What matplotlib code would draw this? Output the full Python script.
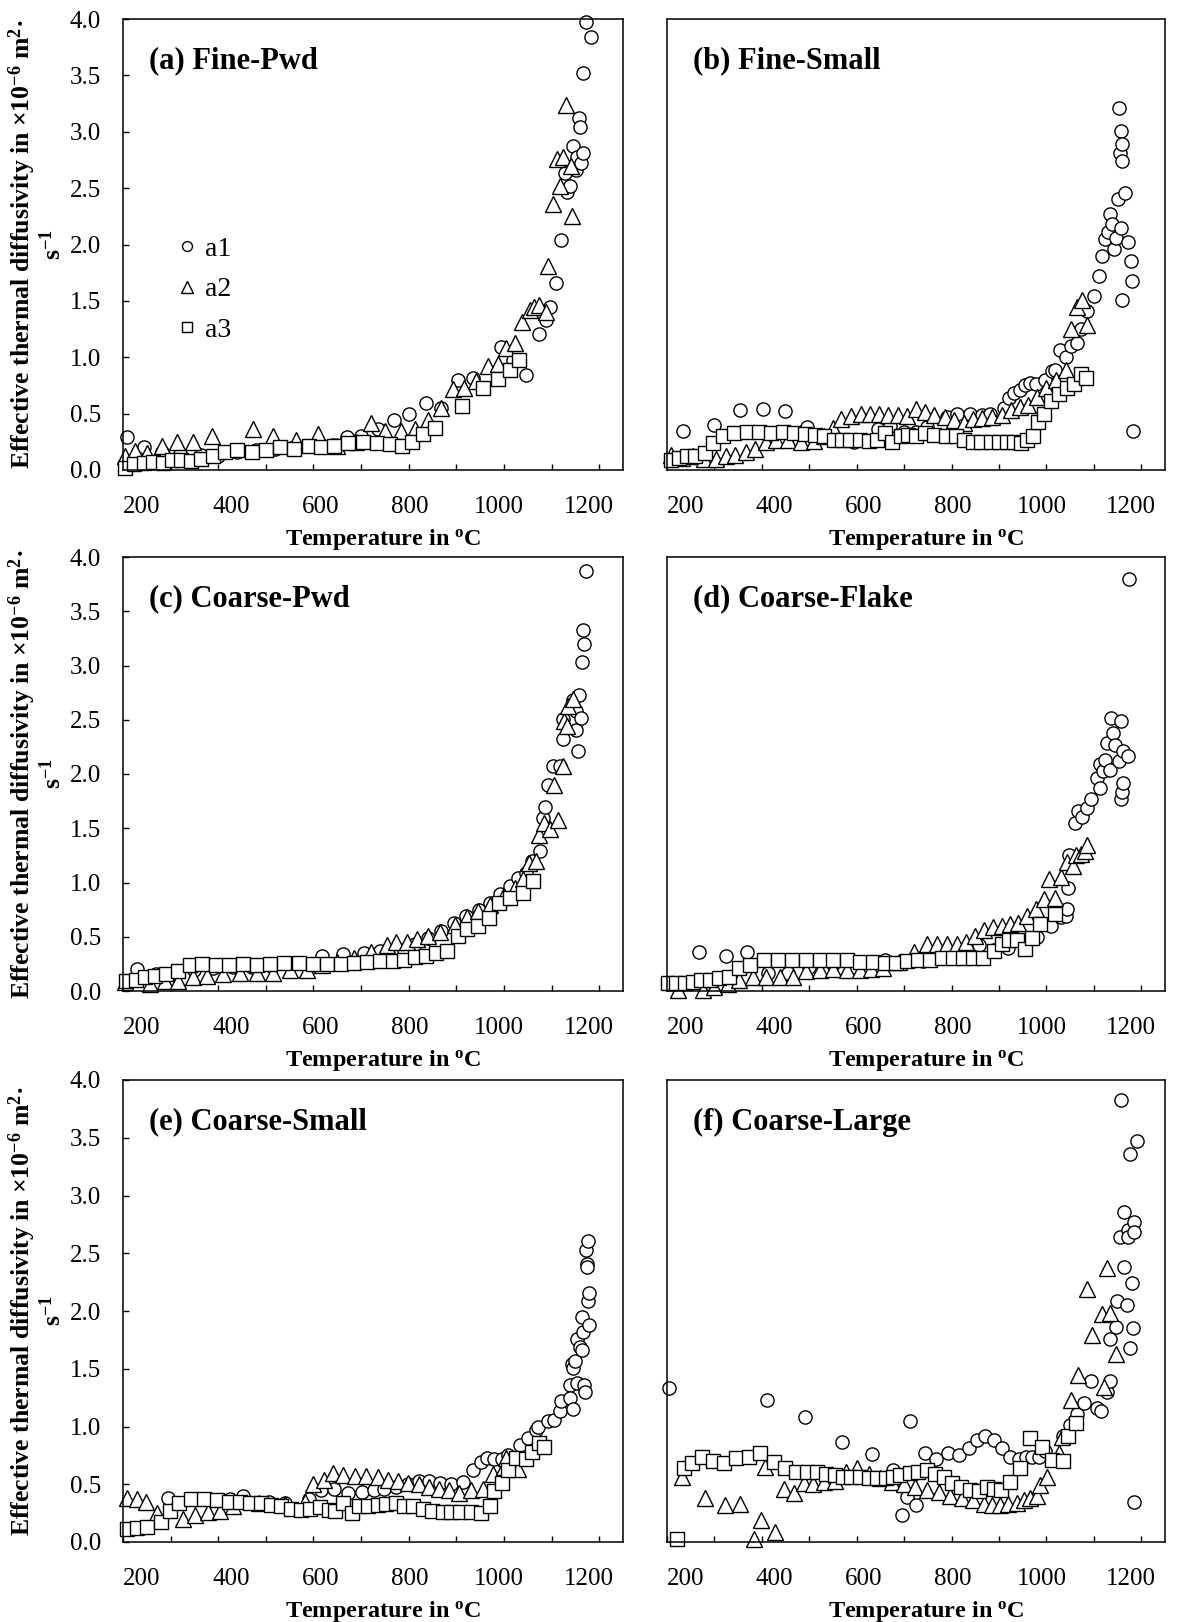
import matplotlib
matplotlib.use("Agg")
import matplotlib.pyplot as plt
from matplotlib.ticker import MultipleLocator, FormatStrFormatter

# ---- data: temperature (deg C) and effective thermal diffusivity (x1e-6 m2/s) ----
A1_T = [208, 244, 282, 320, 363, 400, 440, 480, 520, 560, 600, 640, 670, 700, 735, 770, 801, 837, 868, 903,
        935, 994, 1019, 1046, 1074, 1088, 1096, 1110, 1119, 1128, 1133, 1138, 1144, 1152, 1154, 1158, 1159,
        1162, 1165, 1166, 1173, 1182]
A1_V = [0.29, 0.20, 0.16, 0.14, 0.13, 0.12, 0.16, 0.18, 0.19, 0.20, 0.21, 0.22, 0.29, 0.30, 0.36, 0.44, 0.50,
        0.59, 0.55, 0.80, 0.82, 1.09, 0.98, 0.84, 1.21, 1.33, 1.45, 1.66, 2.04, 2.63, 2.47, 2.52, 2.87, 2.66,
        2.78, 3.12, 3.04, 2.72, 2.81, 3.52, 3.97, 3.84]
A2_T = [205, 226, 250, 282, 313, 348, 386, 472, 514, 563, 609, 650, 690, 721, 750, 784, 814, 840, 868, 893,
        917, 942, 966, 987, 1005, 1024, 1037, 1055, 1063, 1073, 1088, 1093, 1103, 1112, 1117, 1124, 1131,
        1140, 1142]
A2_V = [0.12, 0.17, 0.15, 0.21, 0.25, 0.25, 0.30, 0.36, 0.30, 0.27, 0.32, 0.21, 0.25, 0.42, 0.35, 0.35, 0.36,
        0.44, 0.55, 0.72, 0.73, 0.79, 0.92, 0.94, 1.08, 1.13, 1.31, 1.42, 1.45, 1.46, 1.40, 1.81, 2.36, 2.76,
        2.52, 2.78, 3.24, 2.70, 2.25]
A3_T = [205, 224, 245, 263, 284, 303, 322, 342, 364, 389, 414, 440, 470, 500, 530, 560, 590, 615, 643, 673,
        703, 733, 761, 786, 807, 831, 856, 912, 957, 988, 1012, 1032]
A3_V = [0.02, 0.05, 0.06, 0.07, 0.06, 0.09, 0.09, 0.08, 0.10, 0.12, 0.16, 0.18, 0.16, 0.18, 0.20, 0.19, 0.21,
        0.20, 0.21, 0.24, 0.25, 0.24, 0.23, 0.21, 0.25, 0.32, 0.37, 0.57, 0.73, 0.81, 0.89, 0.98]

B1_T = [234, 299, 354, 402, 449, 496, 594, 644, 670, 700, 726, 749, 790, 812, 839, 865, 880, 910, 921, 932,
        944, 955, 966, 977, 996, 1011, 1019, 1028, 1041, 1052, 1064, 1073, 1086, 1100, 1111, 1117, 1124, 1129,
        1133, 1138, 1142, 1146, 1150, 1152, 1156, 1157, 1157, 1159, 1159, 1160, 1166, 1171, 1178, 1180, 1182]
B1_V = [0.35, 0.40, 0.53, 0.54, 0.52, 0.38, 0.25, 0.36, 0.39, 0.34, 0.34, 0.38, 0.47, 0.50, 0.50, 0.49, 0.50,
        0.55, 0.64, 0.68, 0.71, 0.75, 0.77, 0.76, 0.80, 0.88, 0.89, 1.06, 1.00, 1.10, 1.13, 1.25, 1.41, 1.54,
        1.72, 1.90, 2.05, 2.11, 2.27, 2.18, 1.96, 2.06, 2.40, 3.21, 2.81, 3.01, 2.15, 2.89, 2.74, 1.51, 2.46,
        2.02, 1.85, 1.68, 0.35]
B2_T = [209, 231, 254, 278, 303, 325, 344, 366, 385, 408, 430, 456, 483, 510, 530, 550, 567, 588, 608, 627,
        646, 666, 687, 705, 724, 743, 762, 786, 805, 826, 846, 865, 886, 906, 925, 944, 962, 981, 1000, 1021,
        1041, 1051, 1064, 1075, 1086]
B2_V = [0.13, 0.11, 0.12, 0.10, 0.10, 0.12, 0.13, 0.16, 0.19, 0.25, 0.27, 0.27, 0.25, 0.26, 0.30, 0.37, 0.45,
        0.48, 0.50, 0.50, 0.50, 0.49, 0.49, 0.48, 0.54, 0.51, 0.49, 0.47, 0.44, 0.42, 0.45, 0.46, 0.47, 0.49,
        0.53, 0.56, 0.58, 0.65, 0.73, 0.80, 0.89, 1.25, 1.45, 1.51, 1.29]
B3_T = [209, 226, 243, 260, 280, 297, 318, 342, 369, 394, 419, 444, 468, 490, 511, 531, 552, 569, 586, 606,
        625, 642, 659, 674, 693, 708, 726, 743, 764, 788, 809, 826, 845, 863, 884, 901, 917, 932, 946, 959,
        971, 983, 994, 1010, 1026, 1043, 1058, 1073, 1084]
B3_V = [0.09, 0.11, 0.12, 0.12, 0.15, 0.24, 0.30, 0.33, 0.34, 0.34, 0.33, 0.34, 0.33, 0.32, 0.31, 0.30, 0.27,
        0.27, 0.27, 0.27, 0.26, 0.27, 0.33, 0.25, 0.30, 0.31, 0.30, 0.33, 0.31, 0.30, 0.30, 0.27, 0.25, 0.25,
        0.25, 0.25, 0.25, 0.25, 0.24, 0.27, 0.30, 0.43, 0.50, 0.61, 0.67, 0.73, 0.76, 0.85, 0.82]

C1_T = [229, 270, 310, 350, 390, 430, 470, 510, 550, 590, 618, 663, 706, 740, 770, 791, 814, 840, 868, 896,
        921, 948, 970, 992, 1012, 1030, 1047, 1058, 1075, 1082, 1086, 1093, 1102, 1118, 1124, 1124, 1144,
        1151, 1151, 1156, 1158, 1161, 1163, 1165, 1168, 1172]
C1_V = [0.20, 0.16, 0.17, 0.19, 0.21, 0.22, 0.22, 0.23, 0.24, 0.25, 0.32, 0.34, 0.35, 0.37, 0.35, 0.38, 0.43,
        0.49, 0.55, 0.63, 0.69, 0.75, 0.81, 0.89, 0.97, 1.04, 1.09, 1.20, 1.29, 1.59, 1.70, 1.90, 2.07, 2.07,
        2.51, 2.32, 2.68, 2.58, 2.41, 2.21, 2.73, 2.52, 3.03, 3.33, 3.20, 3.87]
C2_T = [205, 256, 288, 316, 347, 377, 411, 446, 481, 516, 551, 586, 618, 650, 685, 720, 754, 774, 796, 817,
        840, 866, 898, 922, 945, 970, 998, 1023, 1039, 1053, 1068, 1074, 1084, 1096, 1105, 1114, 1123, 1126,
        1133, 1135, 1144]
C2_V = [0.08, 0.06, 0.09, 0.09, 0.13, 0.14, 0.16, 0.17, 0.17, 0.17, 0.19, 0.19, 0.24, 0.27, 0.30, 0.36, 0.42,
        0.45, 0.45, 0.48, 0.51, 0.54, 0.61, 0.68, 0.74, 0.79, 0.87, 0.95, 1.03, 1.18, 1.20, 1.44, 1.55, 1.49,
        1.90, 1.58, 2.07, 2.49, 2.44, 2.63, 2.69]
C3_T = [207, 228, 247, 268, 291, 316, 340, 366, 395, 423, 453, 481, 509, 538, 569, 599, 628, 658, 686, 712,
        740, 767, 791, 814, 837, 858, 880, 903, 922, 945, 969, 990, 1013, 1039, 1061]
C3_V = [0.09, 0.10, 0.13, 0.14, 0.16, 0.18, 0.24, 0.25, 0.24, 0.24, 0.25, 0.24, 0.25, 0.26, 0.26, 0.25, 0.25,
        0.25, 0.26, 0.27, 0.28, 0.28, 0.29, 0.31, 0.32, 0.35, 0.37, 0.51, 0.57, 0.60, 0.67, 0.81, 0.86, 0.90,
        1.01]

D1_T = [267, 324, 369, 413, 455, 500, 550, 600, 660, 700, 740, 780, 820, 857, 890, 920, 950, 980, 1010, 1030,
        1041, 1044, 1046, 1048, 1060, 1067, 1076, 1085, 1095, 1106, 1113, 1113, 1119, 1123, 1127, 1134, 1136,
        1141, 1144, 1152, 1157, 1158, 1159, 1162, 1162, 1173, 1175]
D1_V = [0.36, 0.32, 0.36, 0.17, 0.17, 0.22, 0.25, 0.27, 0.29, 0.27, 0.28, 0.30, 0.33, 0.42, 0.38, 0.40, 0.45,
        0.50, 0.60, 0.68, 0.69, 0.76, 0.95, 1.25, 1.55, 1.66, 1.60, 1.69, 1.77, 1.96, 2.09, 1.87, 2.03, 2.13,
        2.29, 2.04, 2.52, 2.38, 2.27, 2.12, 1.77, 2.49, 1.83, 2.21, 1.92, 2.17, 3.80]
D2_T = [223, 276, 300, 329, 352, 381, 408, 438, 466, 494, 522, 550, 579, 606, 631, 655, 690, 720, 748, 769,
        790, 811, 831, 850, 869, 887, 906, 923, 941, 958, 978, 994, 1006, 1018, 1030, 1044, 1057, 1062, 1072,
        1081, 1086]
D2_V = [0.01, 0.01, 0.04, 0.06, 0.10, 0.13, 0.13, 0.13, 0.13, 0.18, 0.19, 0.20, 0.19, 0.19, 0.20, 0.21, 0.27,
        0.36, 0.43, 0.43, 0.43, 0.43, 0.45, 0.51, 0.56, 0.59, 0.60, 0.62, 0.63, 0.69, 0.76, 0.85, 1.03, 0.86,
        1.05, 1.19, 1.15, 1.25, 1.26, 1.29, 1.35]
D3_T = [202, 218, 237, 255, 272, 291, 310, 331, 352, 376, 404, 434, 464, 494, 523, 551, 579, 606, 634, 659,
        683, 707, 730, 755, 779, 803, 825, 846, 867, 890, 906, 922, 937, 954, 969, 987, 1018]
D3_V = [0.07, 0.07, 0.07, 0.08, 0.10, 0.10, 0.12, 0.13, 0.21, 0.24, 0.29, 0.29, 0.29, 0.29, 0.29, 0.29, 0.29,
        0.27, 0.27, 0.26, 0.26, 0.28, 0.29, 0.29, 0.30, 0.30, 0.30, 0.30, 0.30, 0.37, 0.43, 0.47, 0.47, 0.39,
        0.49, 0.62, 0.71]

E1_T = [295, 424, 453, 507, 540, 590, 615, 644, 673, 702, 727, 749, 773, 798, 821, 843, 866, 889, 915, 934,
        951, 965, 980, 995, 1009, 1034, 1051, 1067, 1071, 1092, 1105, 1117, 1120, 1138, 1138, 1142, 1144, 1146,
        1150, 1153, 1154, 1160, 1163, 1164, 1167, 1169, 1171, 1173, 1175, 1175, 1177, 1177, 1179, 1179]
E1_V = [0.38, 0.37, 0.40, 0.35, 0.34, 0.37, 0.45, 0.46, 0.42, 0.43, 0.45, 0.46, 0.48, 0.50, 0.53, 0.53, 0.51,
        0.50, 0.52, 0.62, 0.69, 0.73, 0.72, 0.72, 0.75, 0.84, 0.90, 0.97, 1.00, 1.05, 1.06, 1.13, 1.22, 1.36,
        1.25, 1.54, 1.15, 1.51, 1.57, 1.38, 1.76, 1.69, 1.66, 1.95, 1.82, 1.36, 1.30, 2.53, 2.41, 2.38, 2.61,
        2.09, 2.16, 1.88]
E2_T = [208, 229, 248, 271, 326, 351, 378, 403, 432, 486, 540, 582, 600, 622, 640, 663, 687, 710, 735, 756,
        777, 798, 822, 843, 864, 885, 905, 930, 955, 978, 1000, 1004, 1030]
E2_V = [0.38, 0.37, 0.35, 0.25, 0.20, 0.23, 0.26, 0.27, 0.31, 0.34, 0.33, 0.35, 0.50, 0.54, 0.60, 0.58, 0.57,
        0.57, 0.56, 0.54, 0.53, 0.51, 0.50, 0.48, 0.46, 0.45, 0.42, 0.45, 0.46, 0.59, 0.65, 0.73, 0.63]
E3_T = [208, 229, 251, 279, 298, 318, 343, 370, 398, 422, 445, 466, 489, 511, 532, 553, 573, 593, 613, 632,
        646, 663, 680, 696, 715, 735, 752, 773, 791, 810, 829, 849, 871, 889, 908, 930, 951, 970, 980, 995,
        1009, 1026, 1047, 1059, 1073, 1084]
E3_V = [0.11, 0.12, 0.13, 0.17, 0.27, 0.34, 0.37, 0.37, 0.36, 0.35, 0.35, 0.34, 0.34, 0.32, 0.31, 0.29, 0.28,
        0.29, 0.30, 0.28, 0.27, 0.34, 0.25, 0.31, 0.31, 0.32, 0.33, 0.34, 0.31, 0.31, 0.29, 0.27, 0.26, 0.26,
        0.26, 0.26, 0.25, 0.31, 0.44, 0.51, 0.62, 0.73, 0.72, 0.78, 0.86, 0.82]

F1_T = [204, 411, 491, 568, 633, 676, 695, 706, 713, 725, 744, 768, 792, 815, 836, 854, 871, 889, 906, 924,
        942, 956, 970, 984, 998, 1035, 1049, 1065, 1079, 1093, 1107, 1115, 1128, 1133, 1135, 1147, 1149, 1156,
        1158, 1163, 1163, 1169, 1172, 1173, 1176, 1177, 1181, 1183, 1185, 1185, 1185, 1192]
F1_V = [1.33, 1.23, 1.08, 0.87, 0.76, 0.62, 0.23, 0.39, 1.05, 0.32, 0.77, 0.72, 0.77, 0.75, 0.81, 0.88, 0.92,
        0.88, 0.81, 0.74, 0.72, 0.74, 0.74, 0.74, 0.79, 0.92, 1.01, 1.11, 1.20, 1.39, 1.16, 1.13, 1.30, 1.39,
        1.76, 1.86, 2.09, 2.64, 3.83, 2.86, 2.38, 2.05, 2.70, 2.64, 3.36, 1.68, 2.24, 1.85, 2.77, 2.68, 0.35,
        3.47]
F2_T = [232, 281, 323, 354, 384, 398, 407, 427, 446, 467, 488, 507, 530, 554, 578, 601, 625, 649, 674, 699,
        723, 748, 773, 797, 822, 846, 868, 885, 903, 920, 938, 952, 966, 980, 987, 1001, 1026, 1033, 1051,
        1066, 1085, 1096, 1118, 1121, 1127, 1135, 1146]
F2_V = [0.56, 0.38, 0.32, 0.33, 0.03, 0.19, 0.65, 0.09, 0.46, 0.42, 0.51, 0.50, 0.52, 0.53, 0.61, 0.64, 0.59,
        0.55, 0.52, 0.50, 0.48, 0.45, 0.43, 0.40, 0.38, 0.36, 0.33, 0.32, 0.32, 0.33, 0.34, 0.36, 0.38, 0.40,
        0.49, 0.56, 0.77, 0.91, 1.23, 1.45, 2.19, 1.79, 1.97, 1.34, 2.37, 1.98, 1.63]
F3_T = [221, 235, 253, 274, 297, 321, 346, 372, 396, 425, 449, 472, 495, 516, 535, 554, 572, 589, 607, 625,
        642, 662, 677, 692, 713, 730, 748, 765, 783, 801, 820, 838, 857, 875, 889, 904, 924, 945, 966, 991,
        1012, 1035, 1045, 1063]
F3_V = [0.03, 0.64, 0.68, 0.74, 0.70, 0.68, 0.73, 0.74, 0.77, 0.69, 0.64, 0.61, 0.61, 0.61, 0.59, 0.58, 0.56,
        0.56, 0.56, 0.55, 0.55, 0.55, 0.56, 0.58, 0.60, 0.61, 0.62, 0.59, 0.56, 0.51, 0.48, 0.45, 0.44, 0.48,
        0.46, 0.45, 0.52, 0.64, 0.90, 0.82, 0.71, 0.70, 0.92, 1.03]

SERIES_LABELS = ["a1", "a2", "a3"]
PANEL_TITLES = ["(a) Fine-Pwd", "(b) Fine-Small", "(c) Coarse-Pwd",
                "(d) Coarse-Flake", "(e) Coarse-Small", "(f) Coarse-Large"]
PANEL_DATA = [
    [(A1_T, A1_V), (A2_T, A2_V), (A3_T, A3_V)],
    [(B1_T, B1_V), (B2_T, B2_V), (B3_T, B3_V)],
    [(C1_T, C1_V), (C2_T, C2_V), (C3_T, C3_V)],
    [(D1_T, D1_V), (D2_T, D2_V), (D3_T, D3_V)],
    [(E1_T, E1_V), (E2_T, E2_V), (E3_T, E3_V)],
    [(F1_T, F1_V), (F2_T, F2_V), (F3_T, F3_V)],
]

# ---- style ----
plt.rcParams["font.family"] = ["Liberation Serif", "DejaVu Serif"]
plt.rcParams["mathtext.fontset"] = "custom"
plt.rcParams["mathtext.rm"] = "Liberation Serif"
plt.rcParams["mathtext.bf"] = "Liberation Serif:bold"
plt.rcParams["mathtext.default"] = "regular"

MARKERS = [("o", 9.5), ("^", 11.0), ("s", 9.5)]
W, H = 1177, 1622
COLS = [(123, 623), (667, 1165)]
ROWS = [(19, 470), (557, 991), (1080, 1542)]
TICK_FS = 18
YLABEL_1 = "Effective thermal diffusivity in \u00d710$^{-6}$ m$^{2}$\u00b7"
YLABEL_2 = "s$^{-1}$"
XLABEL = "Temperature in $^{o}$C"


# the printed temperature labels sit slightly off the tick marks in the source figure
def label_fwd(x):
    return 200 + (x - 239.4) / 0.9385


def label_inv(v):
    return 239.4 + (v - 200) * 0.9385


fig = plt.figure(figsize=(W / 100, H / 100), dpi=100)

for idx, (title, series) in enumerate(zip(PANEL_TITLES, PANEL_DATA)):
    row, col = divmod(idx, 2)
    left, right = COLS[col]
    top, bottom = ROWS[row]
    ax_w, ax_h = right - left, bottom - top
    ax = fig.add_axes([left / W, 1 - bottom / H, ax_w / W, ax_h / H])

    for (temps, vals), (marker, ms), label in zip(series, MARKERS, SERIES_LABELS):
        ax.plot(temps, vals, linestyle="none", marker=marker, markersize=ms,
                markerfacecolor="white", markeredgecolor="black", markeredgewidth=1.0,
                clip_on=False, label=label)

    ax.set_xlim(200, 1250)
    ax.set_ylim(0, 4)
    ax.xaxis.set_major_locator(MultipleLocator(100))
    ax.tick_params(axis="x", direction="in", length=4.5, width=1.0,
                   top=False, labelbottom=False)
    sec = ax.secondary_xaxis("bottom", functions=(label_fwd, label_inv))
    sec.set_xticks([200, 400, 600, 800, 1000, 1200])
    sec.tick_params(length=0, labelsize=TICK_FS, pad=18.5)
    sec.spines["bottom"].set_visible(False)

    if col == 0:
        ax.yaxis.set_major_locator(MultipleLocator(0.5))
        ax.yaxis.set_major_formatter(FormatStrFormatter("%.1f"))
        ax.tick_params(axis="y", direction="in", length=4.5, width=1.0,
                       right=False, labelsize=TICK_FS, pad=16)
    else:
        ax.set_yticks([])
    for spine in ax.spines.values():
        spine.set_linewidth(1.1)

    ax.text(26 / ax_w, 1 - 42 / ax_h, title, transform=ax.transAxes,
            fontsize=22, fontweight="bold", ha="left", va="center")
    ax.text(0.5 + 10 / ax_w, -75 / ax_h, XLABEL, transform=ax.transAxes,
            fontsize=17.5, fontweight="bold", ha="center", va="baseline")

    if col == 0:
        yc = 1 - (top + bottom) / 2 / H
        fig.text(22 / W, yc, YLABEL_1, rotation=90, fontsize=18.5, fontweight="bold",
                 ha="center", va="center")
        fig.text(53 / W, yc, YLABEL_2, rotation=90, fontsize=18.5, fontweight="bold",
                 ha="center", va="center")

    if idx == 0:
        ax.legend(loc="center left", bbox_to_anchor=(0.111, 0.40), frameon=False,
                  fontsize=20, markerscale=0.75, handlelength=0.6, handletextpad=0.35,
                  labelspacing=0.55, borderpad=0, borderaxespad=0)

fig.savefig("out.png", dpi=100)
